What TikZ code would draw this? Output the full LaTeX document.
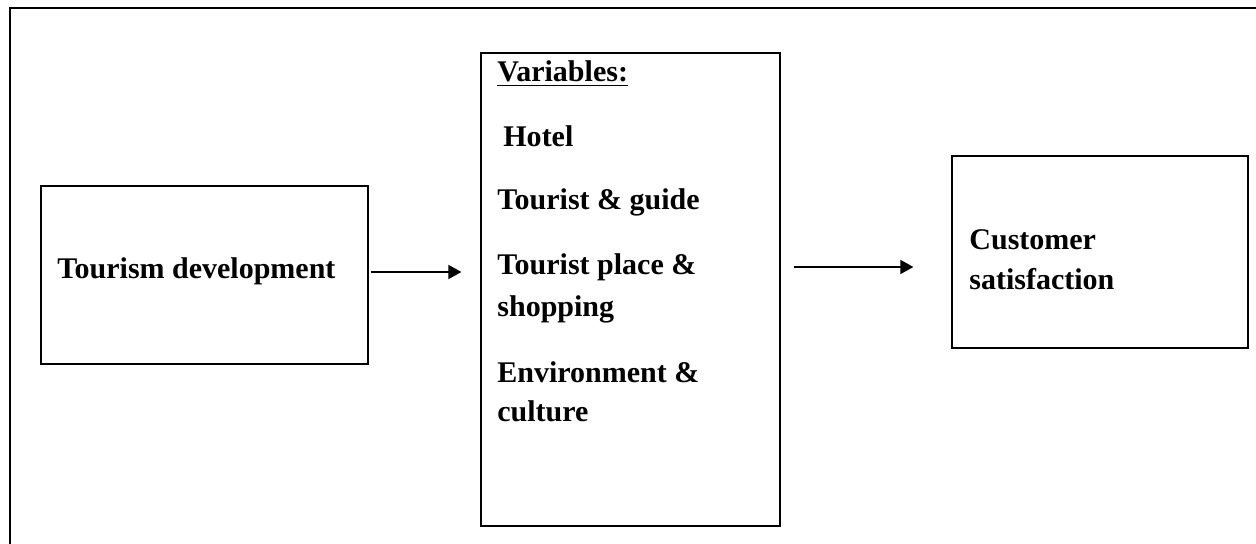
\documentclass[tikz,border=0pt]{standalone}
\usepackage{fontspec}
\setmainfont{Liberation Serif}
\usetikzlibrary{arrows.meta}

\begin{document}
\begin{tikzpicture}[x=0.5pt, y=-0.5pt,
    box/.style = {draw, line width=0.6pt, inner sep=0pt},
    lbl/.style = {anchor=base west, inner sep=0pt, font=\fontsize{15}{18}\selectfont\bfseries},
    flow/.style = {-{Triangle[length=6.5pt,width=7pt]}, line width=0.75pt}]
    \useasboundingbox (0,0) rectangle (1256,544);

    % frame (top and left only)
    \draw[line width=1.1pt] (10,544) -- (10,8) -- (1256,8);

    % boxes
    \node[box, minimum width=163.5pt, minimum height=89pt] (dev) at (204.5,275) {};
    \node[box, minimum width=149.5pt, minimum height=236.5pt] (vars) at (630.5,289.5) {};
    \node[box, minimum width=148pt, minimum height=96pt] (sat) at (1100,252) {};

    % texts
    \node[lbl] (devtxt) at (57,279) {Tourism development};

    \node[lbl] (vhead) at (497,82) {\underline{Variables:}};
    \node[lbl] (vhotel) at (503,147) {Hotel};
    \node[lbl] (vguide) at (497,210) {Tourist \& guide};
    \node[lbl] (vplace) at (497,275) {Tourist place \&};
    \node[lbl] (vshop) at (497,317) {shopping};
    \node[lbl] (venv) at (497,383) {Environment \&};
    \node[lbl] (vcult) at (497,422) {culture};

    \node[lbl] (sattxt) at (969,250) {Customer};
    \node[lbl] (sattxt2) at (969,290) {satisfaction};

    % arrows
    \draw[flow, shorten <=1pt, shorten >=9.5pt] (dev.east |- 0,272) -- (vars.west |- 0,272);
    \draw[flow, shorten <=6.5pt, shorten >=19pt] (vars.east |- 0,267) -- (sat.west |- 0,267);
\end{tikzpicture}
\end{document}
